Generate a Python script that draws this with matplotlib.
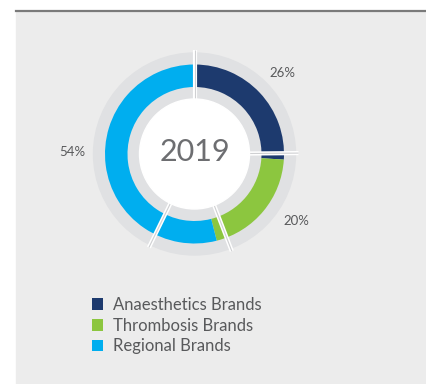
import numpy as np
import matplotlib
matplotlib.use('Agg')
import matplotlib.pyplot as plt
from matplotlib.patches import Rectangle, Circle, Patch

plt.rcParams['font.family'] = ['Lato', 'DejaVu Sans']

year = '2019'
segments = ['Anaesthetics Brands', 'Thrombosis Brands', 'Regional Brands']
shares = [26, 20, 54]
colors = ['#1d3a6e', '#8cc63f', '#00aeef']
divider_angles = [90, 0.5, -69, -116]
label_pos = [(282, 311), (296, 163), (72, 232)]

W, H = 426, 384
fig = plt.figure(figsize=(W / 100, H / 100), dpi=100)
ax = fig.add_axes([0, 0, 1, 1])

# panel + rule on top
ax.add_patch(Rectangle((16, 0), W - 16, H - 12, color='#ececec', zorder=0))
ax.plot([16, W], [H - 11, H - 11], color='#7a7a7a', lw=1.6, zorder=1)

cx, cy = 194.5, 230

# grey track behind the ring, white centre
ax.add_patch(Circle((cx, cy), 101, color='#e0e1e3', zorder=1))
ax.add_patch(Circle((cx, cy), 55, color='white', zorder=4))

ax.pie(shares, colors=colors, startangle=90, counterclock=False,
       radius=89.5, center=(cx, cy), frame=True,
       wedgeprops=dict(width=22.5, linewidth=0, zorder=2))

for a in divider_angles:
    t = np.deg2rad(a)
    xs = cx + np.cos(t) * np.array([55, 104])
    ys = cy + np.sin(t) * np.array([55, 104])
    ax.plot(xs, ys, color='white', lw=3.0, solid_capstyle='butt', zorder=3)
    ax.plot(xs, ys, color='#cfd0d2', lw=0.8, solid_capstyle='butt', zorder=3)

ax.text(cx, cy + 2, year, ha='center', va='center', fontsize=22,
        color='#6d6e71', zorder=5)

for (x, y), v in zip(label_pos, shares):
    ax.text(x, y, f'{v}%', ha='center', va='center', fontsize=9.5, color='#58595b')

handles = [Patch(facecolor=c, edgecolor='none') for c in colors]
ax.legend(handles, segments, loc='upper left', bbox_to_anchor=(92, H - 297),
          bbox_transform=ax.transData, frameon=False, fontsize=12,
          handlelength=0.68, handleheight=0.68, handletextpad=0.6,
          labelspacing=0.28, borderpad=0, borderaxespad=0, labelcolor='#58595b')

ax.set_xlim(0, W)
ax.set_ylim(0, H)
ax.set_aspect('auto')
ax.axis('off')

fig.savefig('out.png', dpi=100, facecolor='white')
